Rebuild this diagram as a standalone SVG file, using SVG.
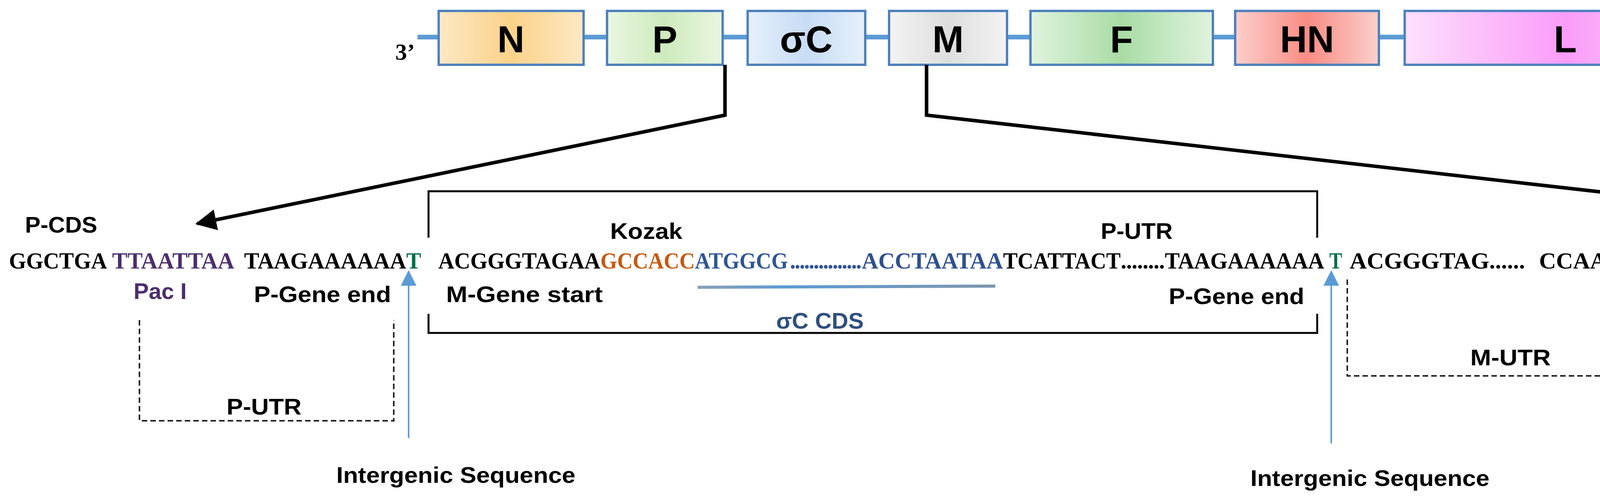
<svg xmlns="http://www.w3.org/2000/svg" width="5302" height="1281" viewBox="0 0 5302 1281">
<style>
.box{stroke:#4f81bd;stroke-width:6}
.gl{font-family:"Liberation Sans",Arial,sans-serif;font-weight:bold;font-size:96px;text-anchor:middle}
.seq{font-family:"Liberation Serif","Times New Roman",serif;font-weight:bold;font-size:60px}
.lab{font-family:"Liberation Sans",Arial,sans-serif;font-weight:bold;font-size:58px}
.dash{fill:none;stroke:#222;stroke-width:4;stroke-dasharray:14 8}
</style>
<defs>
<linearGradient id="gN"><stop offset="0" stop-color="#fde9c4"/><stop offset=".5" stop-color="#fbd28a"/><stop offset="1" stop-color="#fde9c4"/></linearGradient>
<linearGradient id="gP"><stop offset="0" stop-color="#eaf6e0"/><stop offset=".5" stop-color="#cdebbd"/><stop offset="1" stop-color="#eaf6e0"/></linearGradient>
<linearGradient id="gS"><stop offset="0" stop-color="#e6f0fb"/><stop offset=".5" stop-color="#c7dcf5"/><stop offset="1" stop-color="#e6f0fb"/></linearGradient>
<linearGradient id="gM"><stop offset="0" stop-color="#f3f3f3"/><stop offset=".5" stop-color="#dedede"/><stop offset="1" stop-color="#f3f3f3"/></linearGradient>
<linearGradient id="gF"><stop offset="0" stop-color="#e0f3de"/><stop offset=".5" stop-color="#a9dca5"/><stop offset="1" stop-color="#e0f3de"/></linearGradient>
<linearGradient id="gH"><stop offset="0" stop-color="#fcd0cc"/><stop offset=".5" stop-color="#f98c84"/><stop offset="1" stop-color="#fcd0cc"/></linearGradient>
<linearGradient id="gL"><stop offset="0" stop-color="#fde0fd"/><stop offset=".5" stop-color="#fa9cf8"/><stop offset="1" stop-color="#fde0fd"/></linearGradient>
<linearGradient id="gB"><stop offset="0" stop-color="#8aa0b8"/><stop offset=".3" stop-color="#5b9bd5"/><stop offset="1" stop-color="#7f96ad"/></linearGradient>
<marker id="ak" viewBox="0 0 10 10" refX="9" refY="5" markerWidth="6" markerHeight="6" orient="auto" markerUnits="strokeWidth"><path d="M0,0L10,5L0,10z" fill="#000"/></marker>
<marker id="ab" viewBox="0 0 10 10" refX="9" refY="5" markerWidth="12" markerHeight="10" orient="auto" markerUnits="strokeWidth"><path d="M0,0L10,5L0,10z" fill="#5b9bd5"/></marker>
</defs>
<g id="genome">
<line x1="1069" y1="95" x2="4480" y2="95" stroke="#5b9bd5" stroke-width="12"/>
<text x="1012" y="153" class="seq" font-size="44">3’</text>
<text x="4515" y="150" class="seq" font-size="44">5’</text>
<text x="4600" y="135" class="seq" font-size="74" textLength="653" lengthAdjust="spacingAndGlyphs">pNDV-R2B-Sigma C</text>
</g>
<g id="N"><rect class="box" x="1123" y="28" width="371" height="138" fill="url(#gN)"/><text class="gl" x="1308" y="134">N</text></g>
<g id="P"><rect class="box" x="1554" y="28" width="296" height="138" fill="url(#gP)"/><text class="gl" x="1702" y="134">P</text></g>
<g id="sC"><rect class="box" x="1914" y="28" width="301" height="138" fill="url(#gS)"/><text class="gl" x="2064" y="134">σC</text></g>
<g id="M"><rect class="box" x="2276" y="28" width="302" height="138" fill="url(#gM)"/><text class="gl" x="2427" y="134">M</text></g>
<g id="F"><rect class="box" x="2638" y="28" width="467" height="138" fill="url(#gF)"/><text class="gl" x="2871" y="134">F</text></g>
<g id="HN"><rect class="box" x="3162" y="28" width="368" height="138" fill="url(#gH)"/><text class="gl" x="3346" y="134">HN</text></g>
<g id="L"><rect class="box" x="3596" y="28" width="823" height="138" fill="url(#gL)"/><text class="gl" x="4007" y="134">L</text></g>
<g id="connectors">
<polyline points="1856,166 1856,295 505,573" fill="none" stroke="#000" stroke-width="9" marker-end="url(#ak)"/>
<polyline points="2372,166 2372,295 4828,575" fill="none" stroke="#000" stroke-width="9" marker-end="url(#ak)"/>
<line x1="1046" y1="1122" x2="1046" y2="696" stroke="#5b9bd5" stroke-width="4" marker-end="url(#ab)"/>
<line x1="3408" y1="1136" x2="3408" y2="696" stroke="#5b9bd5" stroke-width="4" marker-end="url(#ab)"/>
<line x1="1786" y1="736" x2="2548" y2="733" stroke="url(#gB)" stroke-width="8"/>
</g>
<g id="sequence">
<text class="seq" x="23" y="688" textLength="251" lengthAdjust="spacingAndGlyphs">GGCTGA</text>
<text class="seq" x="287" y="688" fill="#4b2e6e" textLength="313" lengthAdjust="spacingAndGlyphs">TTAATTAA</text>
<text class="seq" x="625" y="688" textLength="415" lengthAdjust="spacingAndGlyphs">TAAGAAAAAA</text>
<text class="seq" x="1040" y="688" fill="#00704a" textLength="38" lengthAdjust="spacingAndGlyphs">T</text>
<text class="seq" x="1122" y="688" textLength="415" lengthAdjust="spacingAndGlyphs">ACGGGTAGAA</text>
<text class="seq" x="1537" y="688" fill="#c55a11" textLength="242" lengthAdjust="spacingAndGlyphs">GCCACC</text>
<text class="seq" x="1779" y="688" fill="#2f5597" textLength="238" lengthAdjust="spacingAndGlyphs">ATGGCG</text>
<text class="seq" x="2022" y="688" fill="#2f5597" font-weight="normal" font-size="30" textLength="184" lengthAdjust="spacing">...............</text>
<text class="seq" x="2206" y="688" fill="#2f4f8f" textLength="362" lengthAdjust="spacingAndGlyphs">ACCTAATAA</text>
<text class="seq" x="2568" y="688" textLength="301" lengthAdjust="spacingAndGlyphs">TCATTACT</text>
<text class="seq" x="2869" y="688" font-weight="normal" font-size="30" textLength="113" lengthAdjust="spacing">........</text>
<text class="seq" x="2982" y="688" textLength="408" lengthAdjust="spacingAndGlyphs">TAAGAAAAAA</text>
<text class="seq" x="3403" y="688" fill="#00704a" textLength="33" lengthAdjust="spacingAndGlyphs">T</text>
<text class="seq" x="3455" y="688" textLength="449" lengthAdjust="spacingAndGlyphs">ACGGGTAG......</text>
<text class="seq" x="3940" y="688" textLength="655" lengthAdjust="spacingAndGlyphs">CCAAGATGGACTC......</text>
<text class="seq" x="4595" y="688" fill="#a00000" textLength="237" lengthAdjust="spacingAndGlyphs">CCTAGG</text>
<text class="seq" x="4832" y="688" textLength="91" lengthAdjust="spacingAndGlyphs">....</text>
<text class="seq" x="4947" y="688" textLength="328" lengthAdjust="spacingAndGlyphs">TAAGAAAT</text>
</g>
<g id="labels">
<text class="lab" x="64" y="596" textLength="185" lengthAdjust="spacingAndGlyphs">P-CDS</text>
<text class="lab" x="1562" y="612" textLength="185" lengthAdjust="spacingAndGlyphs">Kozak</text>
<text class="lab" x="2818" y="612" textLength="184" lengthAdjust="spacingAndGlyphs">P-UTR</text>
<text class="lab" x="342" y="766" fill="#4b2e6e" font-weight="normal" textLength="136" lengthAdjust="spacingAndGlyphs">Pac I</text>
<text class="lab" x="650" y="774" textLength="351" lengthAdjust="spacingAndGlyphs">P-Gene end</text>
<text class="lab" x="1142" y="774" textLength="401" lengthAdjust="spacingAndGlyphs">M-Gene start</text>
<text class="lab" x="2992" y="779" textLength="347" lengthAdjust="spacingAndGlyphs">P-Gene end</text>
<text class="lab" x="1987" y="842" fill="#2f4f7f" font-weight="normal" textLength="224" lengthAdjust="spacingAndGlyphs">σC CDS</text>
<text class="lab" x="4656" y="774" fill="#a00000" font-weight="normal" textLength="158" lengthAdjust="spacingAndGlyphs">Avr II</text>
<text class="lab" x="580" y="1062" textLength="192" lengthAdjust="spacingAndGlyphs">P-UTR</text>
<text class="lab" x="3764" y="936" textLength="206" lengthAdjust="spacingAndGlyphs">M-UTR</text>
<text class="lab" x="4613" y="941" textLength="213" lengthAdjust="spacingAndGlyphs">M-CDS</text>
<text class="lab" x="861" y="1237" textLength="612" lengthAdjust="spacingAndGlyphs">Intergenic Sequence</text>
<text class="lab" x="3201" y="1245" textLength="612" lengthAdjust="spacingAndGlyphs">Intergenic Sequence</text>
</g>
<g id="brackets">
<polyline class="dash" points="357,820 357,1078 1008,1078 1008,820"/>
<polyline class="dash" points="3449,716 3449,963 4152,963 4152,716"/>
<polyline class="dash" points="4183,727 4183,974 5279,974 5279,694"/>
<polyline points="1097,609 1097,490 3372,490 3372,609" fill="none" stroke="#000" stroke-width="5"/>
<polyline points="1097,804 1097,853 3372,853 3372,804" fill="none" stroke="#000" stroke-width="5"/>
</g>
</svg>
